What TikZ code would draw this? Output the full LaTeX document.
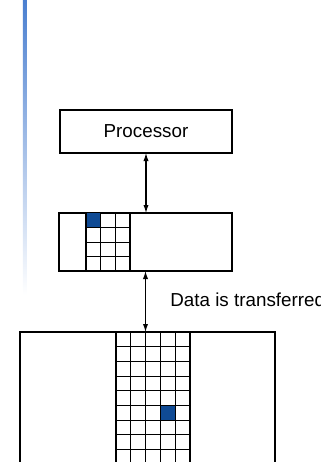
\documentclass[tikz,border=0pt]{standalone}
\usepackage{fontspec}
\setmainfont{Liberation Sans}
\usetikzlibrary{arrows.meta}
\definecolor{barblue}{HTML}{4A7FD0}
\definecolor{cellblue}{HTML}{0F4A94}
\begin{document}
\begin{tikzpicture}[x=0.5pt,y=-0.5pt,
        box/.style={rectangle, draw, fill=white, line width=0.6pt,
                        inner sep=0pt, outer sep=0pt},
        cell/.style={fill=cellblue},
        gl/.style={line width=0.55pt},
        link/.style={line width=0.55pt, {Latex[length=4pt,width=2.6pt]}-{Latex[length=4pt,width=2.6pt]}},
        font=\fontsize{9.4}{11}\selectfont]
        \useasboundingbox (0,0) rectangle (321,462);
        \shade[top color=barblue, bottom color=white] (23,0) rectangle (27,295);
        \node[box, minimum width=86pt, minimum height=21.5pt] (proc) at (146,131.5) {Processor};
        \node[box, minimum width=86.5pt, minimum height=29pt] (cache) at (145.5,242) {};
        \node[box, minimum width=127.5pt, minimum height=80pt, anchor=north west] (mem) at (20,332) {};
        % cache lines
        \fill[cell] (86,213) rectangle (100.7,227.5);
        \foreach \x in {86,100.7,115.3,130}
            \draw[gl] (\x,213) -- (\x,271);
        \foreach \y in {227.5,242.5,256.5}
            \draw[gl] (86,\y) -- (130,\y);
        % memory block column
        \fill[cell] (160.4,405.3) rectangle (175.2,420);
        \foreach \x in {116,130.8,145.6,160.4,175.2,190}
            \draw[gl] (\x,332) -- (\x,480);
        \foreach \y in {346.7,361.3,376.5,390.6,405.3,420.5,434.6,449.3}
            \draw[gl] (116,\y) -- (190,\y);
        \draw[link] (proc) -- (proc |- cache.north);
        \draw[link] (cache.south) -- (cache.south |- mem.north);
        \node[anchor=base west, inner sep=0pt] (xfer) at (170,306.5) {Data is transferred};
    \end{tikzpicture}
\end{document}
